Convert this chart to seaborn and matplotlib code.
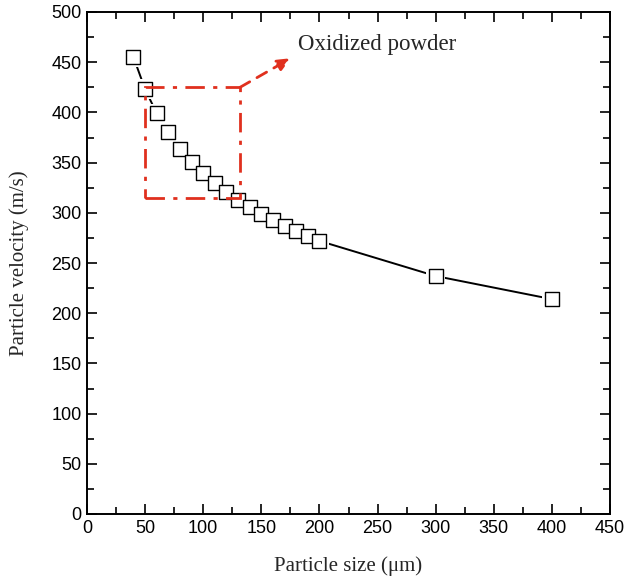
import matplotlib
matplotlib.use("Agg")
import matplotlib.pyplot as plt
import seaborn as sns
import pandas as pd
from matplotlib.ticker import MultipleLocator
from matplotlib.patches import Rectangle

size_um = [40, 50, 60, 70, 80, 90, 100, 110, 120, 130, 140, 150, 160, 170, 180, 190, 200, 300, 400]
velocity = [455, 423, 399, 380, 364, 351, 340, 330, 321, 313, 306, 299, 293, 287, 282, 277, 272, 237, 214]
box_x = [50, 131.7]
box_y = [315, 425]
arrow_end = [175.5, 454]
note = "Oxidized powder"

df = pd.DataFrame({"size": size_um, "vel": velocity})

sns.set_style("ticks")
fig = plt.figure(figsize=(6.25, 5.78), dpi=100)
ax = fig.add_axes([87/625, 1-514/578, (610-87)/625, (514-12)/578])

sns.lineplot(data=df, x="size", y="vel", ax=ax, color="black", lw=1.4, zorder=2)
sns.scatterplot(data=df, x="size", y="vel", ax=ax, marker="s", s=200, color="white",
                edgecolor="none", linewidth=0, zorder=3)
sns.scatterplot(data=df, x="size", y="vel", ax=ax, marker="s", s=105, facecolor="white",
                edgecolor="black", linewidth=1.0, zorder=4)

red = "#e0301e"
ax.add_patch(Rectangle((box_x[0], box_y[0]), box_x[1]-box_x[0], box_y[1]-box_y[0],
                       fill=False, edgecolor=red, lw=2, linestyle=(0, (7, 3, 1.5, 3)), zorder=5))
ax.annotate("", xy=(arrow_end[0], arrow_end[1]), xytext=(box_x[1], box_y[1]),
            arrowprops=dict(arrowstyle="-|>,head_length=0.8,head_width=0.35", color=red, lw=2,
                            linestyle=(0, (4, 3)), shrinkA=0, shrinkB=0), zorder=5)
ax.text(181.5, 468, note, fontsize=16.5, family="Liberation Serif", va="center", ha="left")

ax.set_xlim(0, 450)
ax.set_ylim(0, 500)
ax.xaxis.set_major_locator(MultipleLocator(50))
ax.xaxis.set_minor_locator(MultipleLocator(25))
ax.yaxis.set_major_locator(MultipleLocator(50))
ax.yaxis.set_minor_locator(MultipleLocator(25))
ax.tick_params(which="both", direction="in", top=True, right=True, width=1.2, colors="black")
ax.tick_params(which="major", length=7, labelsize=13, pad=4)
ax.tick_params(which="minor", length=5)
for lab in ax.get_xticklabels() + ax.get_yticklabels():
    lab.set_family("Liberation Sans")
for s in ax.spines.values():
    s.set_linewidth(1.4)
    s.set_color("black")

ax.set_xlabel("Particle size (\u03bcm)", fontsize=15, family="Liberation Serif", labelpad=14)
ax.set_ylabel("Particle velocity (m/s)", fontsize=15, family="Liberation Serif", labelpad=16)

fig.savefig("out.png", dpi=100)
